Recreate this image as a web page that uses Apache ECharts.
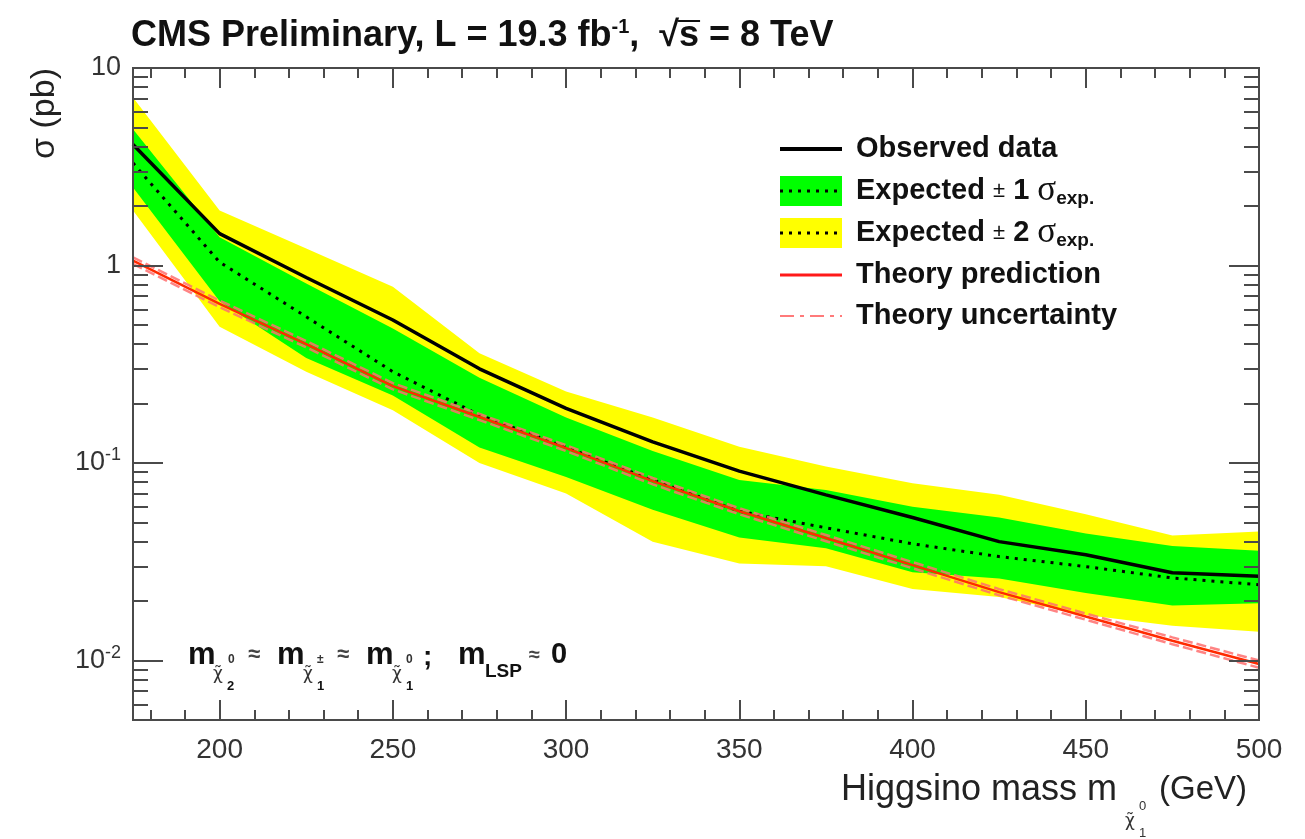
<!DOCTYPE html>
<html>
<head>
<meta charset="utf-8">
<title>Higgsino cross-section limit</title>
<script src="https://cdn.jsdelivr.net/npm/echarts@6/dist/echarts.min.js"></script>
<style>
  html, body { margin: 0; padding: 0; background: #ffffff; }
  #main { width: 1305px; height: 839px; }
</style>
</head>
<body>
<div id="main"></div>
<script>
// Higgsino mass points (GeV)
const masses = [175, 200, 225, 250, 275, 300, 325, 350, 375, 400, 425, 450, 475, 500];

// 95% CL upper limits on the cross section (pb)
const observed     = [4.1, 1.45, 0.87, 0.53, 0.30, 0.189, 0.128, 0.091, 0.069, 0.053, 0.040, 0.0343, 0.0278, 0.0267];
const expected     = [3.3, 1.04, 0.55, 0.29, 0.175, 0.12, 0.082, 0.057, 0.047, 0.039, 0.0336, 0.0299, 0.0262, 0.0242];
const oneSigmaUp   = [4.9, 1.39, 0.81, 0.48, 0.27, 0.17, 0.115, 0.082, 0.073, 0.060, 0.053, 0.044, 0.038, 0.036];
const oneSigmaDown = [2.48, 0.66, 0.34, 0.22, 0.12, 0.085, 0.058, 0.042, 0.037, 0.028, 0.026, 0.022, 0.019, 0.0195];
const twoSigmaUp   = [7.1, 1.9, 1.22, 0.78, 0.36, 0.23, 0.17, 0.121, 0.096, 0.079, 0.069, 0.055, 0.043, 0.045];
const twoSigmaDown = [1.9, 0.49, 0.29, 0.185, 0.10, 0.070, 0.040, 0.031, 0.030, 0.023, 0.021, 0.017, 0.015, 0.014];

// Theory cross section and its uncertainty envelope (pb)
const theory     = [1.06, 0.64, 0.40, 0.245, 0.171, 0.119, 0.081, 0.057, 0.0417, 0.0304, 0.0222, 0.0167, 0.0126, 0.0096];
const theoryUp   = [1.10, 0.665, 0.415, 0.254, 0.177, 0.123, 0.084, 0.059, 0.0432, 0.0315, 0.0230, 0.0173, 0.0131, 0.0100];
const theoryDown = [1.02, 0.615, 0.385, 0.236, 0.165, 0.115, 0.078, 0.055, 0.0402, 0.0293, 0.0214, 0.0161, 0.0121, 0.0092];

// Axis ranges and tick positions
const xRange = [175, 500];
const yRange = [0.005, 10];
const xMajorTicks = [200, 250, 300, 350, 400, 450, 500];
const xMinorTicks = [180, 190, 210, 220, 230, 240, 260, 270, 280, 290, 310, 320, 330, 340,
                     360, 370, 380, 390, 410, 420, 430, 440, 460, 470, 480, 490];
const yMajorTicks = [0.01, 0.1, 1, 10];
const yMinorTicks = [0.006, 0.007, 0.008, 0.009,
                     0.02, 0.03, 0.04, 0.05, 0.06, 0.07, 0.08, 0.09,
                     0.2, 0.3, 0.4, 0.5, 0.6, 0.7, 0.8, 0.9,
                     2, 3, 4, 5, 6, 7, 8, 9];

const FONT = '"Liberation Sans", Arial, Helvetica, sans-serif';
const SERIF = '"Liberation Serif", "DejaVu Serif", serif';
const CHI = '"DejaVu Sans", sans-serif';
const FRAME = '#4a4a4a';

const pairs = (ys) => masses.map((m, i) => [m, ys[i]]);

// width of a string in a given font, used to lay out the title pieces
const measureCtx = document.createElement('canvas').getContext('2d');
function textWidth(str, font) {
  measureCtx.font = font;
  return measureCtx.measureText(str).width;
}

function band(name, upper, lower, color, z) {
  return {
    type: 'custom',
    name: name,
    z: z,
    silent: true,
    clip: true,
    xAxisIndex: 0,
    yAxisIndex: 0,
    data: [[masses[0], upper[0]]],
    renderItem: function (params, api) {
      const pts = [];
      for (let i = 0; i < masses.length; i++) pts.push(api.coord([masses[i], upper[i]]));
      for (let i = masses.length - 1; i >= 0; i--) pts.push(api.coord([masses[i], lower[i]]));
      return { type: 'polygon', shape: { points: pts }, style: { fill: color, stroke: null } };
    }
  };
}

function lineSeries(name, ys, style, z) {
  return {
    type: 'line',
    name: name,
    z: z,
    silent: true,
    symbol: 'none',
    clip: true,
    xAxisIndex: 0,
    yAxisIndex: 0,
    lineStyle: style,
    data: pairs(ys)
  };
}

function xAxisDef(position, ticks, length, withLabels) {
  return {
    type: 'value', gridIndex: 0, position: position,
    min: xRange[0], max: xRange[1], z: 10,
    axisLine: { show: true, onZero: false, lineStyle: { color: FRAME, width: 2 } },
    axisTick: { show: true, inside: true, length: length, customValues: ticks,
                lineStyle: { color: FRAME, width: 2 } },
    axisLabel: withLabels
      ? { show: true, customValues: ticks, margin: 16, color: '#333', fontFamily: FONT, fontSize: 28 }
      : { show: false },
    splitLine: { show: false }
  };
}

function yAxisDef(position, ticks, length, withLabels) {
  return {
    type: 'log', logBase: 10, gridIndex: 0, position: position,
    min: yRange[0], max: yRange[1], z: 10,
    axisLine: { show: true, onZero: false, lineStyle: { color: FRAME, width: 2 } },
    axisTick: { show: true, inside: true, length: length, customValues: ticks,
                lineStyle: { color: FRAME, width: 2 } },
    axisLabel: withLabels
      ? {
          show: true, customValues: ticks, margin: 12, color: '#333',
          fontFamily: FONT, fontSize: 27,
          formatter: function (v) {
            const e = Math.round(Math.log10(v));
            if (e === 0) return '1';
            if (e === 1) return '10';
            return '10{s|' + e + '}';
          },
          rich: { s: { fontFamily: FONT, fontSize: 18, color: '#333', padding: [0, 0, 16, 0] } }
        }
      : { show: false },
    splitLine: { show: false }
  };
}

// small helper for free text
function txt(x, y, text, size, opts) {
  opts = opts || {};
  return {
    type: 'text', x: x, y: y, z: 20, silent: true,
    style: {
      text: text,
      fontFamily: opts.family || FONT,
      fontSize: size,
      fontWeight: opts.weight || 'normal',
      fill: opts.color || '#111',
      align: opts.align || 'left',
      verticalAlign: opts.valign || 'middle',
      rich: opts.rich
    },
    rotation: opts.rotation || 0
  };
}

// title pieces
const TITLE_SIZE = 36;
const titleX = 131, titleY = 36;
const titleBold = 'bold ' + TITLE_SIZE + 'px "Liberation Sans"';
const supBold = 'bold 20px "Liberation Sans"';
const part1 = 'CMS Preliminary, L = 19.3 fb';
const part2 = ',  ';
const sqrtX = titleX + textWidth(part1, titleBold) + textWidth('-1', supBold) + textWidth(part2, titleBold);
const sX = sqrtX + textWidth('\u221A', titleBold);
const sEnd = sX + textWidth('s', titleBold);

const legendX0 = 780, legendX1 = 842, legendTextX = 856;
const legendRows = [149, 191, 233, 275, 316];
const LEG = 29;
const legendRich = {
  b: { fontFamily: FONT, fontWeight: 'bold', fontSize: LEG, fill: '#111' },
  pm: { fontFamily: FONT, fontSize: 22, fill: '#111' },
  sg: { fontFamily: SERIF, fontSize: 35, fill: '#111' },
  sub: { fontFamily: FONT, fontWeight: 'bold', fontSize: 19, fill: '#111', padding: [16, 0, 0, 0] }
};

const graphics = [
  // title
  txt(titleX, titleY, part1 + '{sup|-1}' + part2 + '\u221As = 8 TeV', TITLE_SIZE, {
    weight: 'bold', color: '#111',
    rich: { sup: { fontFamily: FONT, fontWeight: 'bold', fontSize: 20, fill: '#111', padding: [0, 0, 18, 0] } }
  }),
  { type: 'line', z: 20, silent: true,
    shape: { x1: sX - 1, y1: titleY - 15, x2: sEnd + 1, y2: titleY - 15 },
    style: { stroke: '#111', lineWidth: 2 } },

  // y axis title
  txt(45, 68, '\u03C3 (pb)', 34, { align: 'right', rotation: Math.PI / 2, color: '#222' }),
  // x axis title
  txt(1117, 790, 'Higgsino mass m', 36, { align: 'right', color: '#222' }),
  txt(1125, 822, '\u03C7\u0303', 17, { family: CHI, color: '#333' }),
  txt(1139, 806, '0', 13, { color: '#333' }),
  txt(1139, 833, '1', 13, { color: '#333' }),
  txt(1247, 790, '(GeV)', 33, { align: 'right', color: '#222' }),

  // mass hierarchy note
  txt(188, 655, 'm', 31, { weight: 'bold' }),
  txt(213, 675, '\u03C7\u0303', 17, { family: CHI, color: '#333' }),
  txt(228, 660, '0', 12, { weight: 'bold', color: '#333' }),
  txt(227, 686, '2', 13, { weight: 'bold' }),
  txt(248, 655, '\u2248', 22, { weight: 'bold', color: '#444' }),
  txt(277, 655, 'm', 31, { weight: 'bold' }),
  txt(303, 675, '\u03C7\u0303', 17, { family: CHI, color: '#333' }),
  txt(317, 660, '\u00B1', 12, { weight: 'bold', color: '#333' }),
  txt(317, 686, '1', 13, { weight: 'bold' }),
  txt(337, 655, '\u2248', 22, { weight: 'bold', color: '#444' }),
  txt(366, 655, 'm', 31, { weight: 'bold' }),
  txt(392, 675, '\u03C7\u0303', 17, { family: CHI, color: '#333' }),
  txt(406, 660, '0', 12, { weight: 'bold', color: '#333' }),
  txt(406, 686, '1', 13, { weight: 'bold' }),
  txt(423, 657, ';', 28, { weight: 'bold' }),
  txt(458, 655, 'm', 31, { weight: 'bold' }),
  txt(485, 672, 'LSP', 19, { weight: 'bold' }),
  txt(529, 655, '\u2248', 20, { weight: 'bold', color: '#444' }),
  txt(551, 655, '0', 29, { weight: 'bold' }),

  // legend entries
  { type: 'line', z: 20, silent: true, shape: { x1: legendX0, y1: legendRows[0], x2: legendX1, y2: legendRows[0] },
    style: { stroke: '#000', lineWidth: 4 } },
  { type: 'rect', z: 20, silent: true, shape: { x: legendX0, y: legendRows[1] - 15, width: legendX1 - legendX0, height: 30 },
    style: { fill: '#00ff00' } },
  { type: 'line', z: 21, silent: true, shape: { x1: legendX0, y1: legendRows[1], x2: legendX1, y2: legendRows[1] },
    style: { stroke: '#000', lineWidth: 3, lineDash: [3, 6] } },
  { type: 'rect', z: 20, silent: true, shape: { x: legendX0, y: legendRows[2] - 15, width: legendX1 - legendX0, height: 30 },
    style: { fill: '#ffff00' } },
  { type: 'line', z: 21, silent: true, shape: { x1: legendX0, y1: legendRows[2], x2: legendX1, y2: legendRows[2] },
    style: { stroke: '#000', lineWidth: 3, lineDash: [3, 6] } },
  { type: 'line', z: 20, silent: true, shape: { x1: legendX0, y1: legendRows[3], x2: legendX1, y2: legendRows[3] },
    style: { stroke: '#ff1a1a', lineWidth: 3 } },
  { type: 'line', z: 20, silent: true, shape: { x1: legendX0, y1: legendRows[4], x2: legendX1, y2: legendRows[4] },
    style: { stroke: '#ff7a7a', lineWidth: 2, lineDash: [14, 6, 4, 6] } },

  txt(legendTextX, legendRows[0], 'Observed data', LEG, { weight: 'bold' }),
  txt(legendTextX, legendRows[1], '{b|Expected} {pm|\u00B1} {b|1} {sg|\u03C3}{sub|exp.}', LEG, { weight: 'bold', rich: legendRich }),
  txt(legendTextX, legendRows[2], '{b|Expected} {pm|\u00B1} {b|2} {sg|\u03C3}{sub|exp.}', LEG, { weight: 'bold', rich: legendRich }),
  txt(legendTextX, legendRows[3], 'Theory prediction', LEG, { weight: 'bold' }),
  txt(legendTextX, legendRows[4], 'Theory uncertainty', LEG, { weight: 'bold' })
];

const chart = echarts.init(document.getElementById('main'), null, { renderer: 'canvas' });
chart.setOption({
  backgroundColor: '#ffffff',
  animation: false,
  grid: { left: 133, top: 68, right: 46, bottom: 119, containLabel: false, outerBoundsMode: 'none' },
  xAxis: [
    xAxisDef('bottom', xMajorTicks, 20, true),
    xAxisDef('bottom', xMinorTicks, 10, false),
    xAxisDef('top', xMajorTicks, 20, false),
    xAxisDef('top', xMinorTicks, 10, false)
  ],
  yAxis: [
    yAxisDef('left', yMajorTicks, 30, true),
    yAxisDef('left', yMinorTicks, 15, false),
    yAxisDef('right', yMajorTicks, 30, false),
    yAxisDef('right', yMinorTicks, 15, false)
  ],
  series: [
    band('Expected \u00B1 2 \u03C3', twoSigmaUp, twoSigmaDown, '#ffff00', 1),
    band('Expected \u00B1 1 \u03C3', oneSigmaUp, oneSigmaDown, '#00ff00', 2),
    lineSeries('Expected', expected, { color: '#000', width: 3, type: [3, 6] }, 3),
    lineSeries('Theory uncertainty up', theoryUp, { color: 'rgba(255,110,110,0.85)', width: 2.5, type: [10, 4] }, 4),
    lineSeries('Theory uncertainty down', theoryDown, { color: 'rgba(255,110,110,0.85)', width: 2.5, type: [10, 4] }, 4),
    lineSeries('Theory prediction', theory, { color: '#ff2a00', width: 2.5 }, 5),
    lineSeries('Observed data', observed, { color: '#000', width: 3.5 }, 6)
  ],
  graphic: graphics
});
</script>
</body>
</html>
